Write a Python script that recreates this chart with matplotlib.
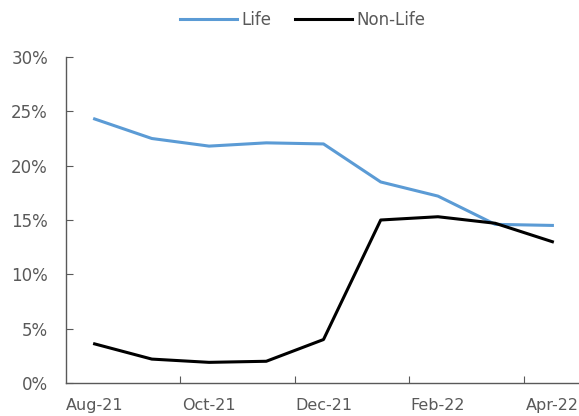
import matplotlib
matplotlib.use("Agg")
import matplotlib.pyplot as plt
import numpy as np

months = ["Aug-21", "Sep-21", "Oct-21", "Nov-21", "Dec-21",
          "Jan-22", "Feb-22", "Mar-22", "Apr-22"]
life = [24.3, 22.5, 21.8, 22.1, 22.0, 18.5, 17.2, 14.6, 14.5]
non_life = [3.6, 2.2, 1.9, 2.0, 4.0, 15.0, 15.3, 14.7, 13.0]

grey = "#595959"
plt.rcParams["font.family"] = "DejaVu Sans"

fig = plt.figure(figsize=(5.79, 4.16), dpi=100)
ax = fig.add_axes([66 / 579, 33 / 416, 515 / 579, 326 / 416])

x = np.arange(len(months))
ax.plot(x, life, color="#5B9BD5", lw=2.2, label="Life")
ax.plot(x, non_life, color="black", lw=2.2, label="Non-Life")

ax.set_xlim(-0.5, len(months) - 0.5)
ax.set_ylim(0, 30)
ax.set_yticks(range(0, 31, 5))
ax.set_yticklabels([f"{v}%" for v in range(0, 31, 5)])

# category labels every other month, tick marks between label groups
ax.set_xticks(x[::2], minor=True)
ax.set_xticklabels(months[::2], minor=True)
ax.set_xticks([1.5, 3.5, 5.5, 7.5])
ax.set_xticklabels([])
ax.tick_params(axis="x", which="minor", length=0, pad=11, labelsize=11.5, labelcolor=grey)
ax.tick_params(axis="x", which="major", direction="in", length=5, color=grey)
ax.tick_params(axis="y", direction="in", length=5, color=grey, pad=13,
               labelsize=12, labelcolor=grey)

for side in ["top", "right"]:
    ax.spines[side].set_visible(False)
for side in ["left", "bottom"]:
    ax.spines[side].set_color(grey)
    ax.spines[side].set_linewidth(1.0)

fig.legend(loc="center", bbox_to_anchor=(303 / 579, 1 - 20 / 416), ncol=2,
           frameon=False, fontsize=12, labelcolor=grey, handlelength=3.4,
           handletextpad=0.3, columnspacing=1.4)

fig.savefig("out.png", dpi=100)
